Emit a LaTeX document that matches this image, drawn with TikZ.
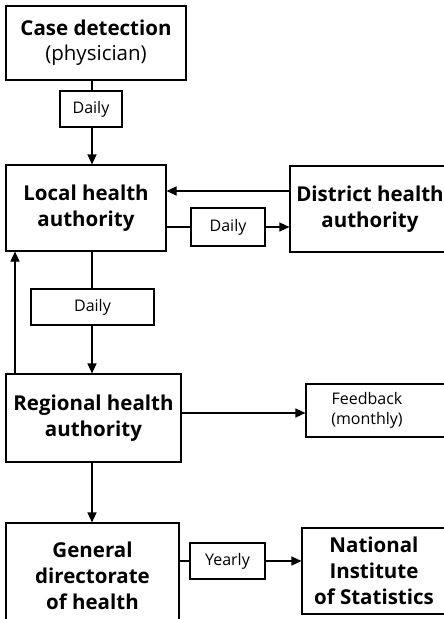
\documentclass[tikz,border=0pt]{standalone}
\usepackage{fontspec}
\setmainfont{Open Sans}
\usetikzlibrary{arrows.meta,calc}
\begin{document}
\begin{tikzpicture}[x=1pt,y=-1pt,
  box/.style={draw,line width=1.1pt,inner sep=0pt,align=center},
  head/.style={box,font=\fontsize{20.5}{26}\selectfont\bfseries},
  tag/.style={box,font=\fontsize{16}{20}\selectfont},
  conn/.style={line width=1.1pt},
  arr/.style={conn,-{Triangle[length=10pt,width=9pt]}}]
\useasboundingbox (0,0) rectangle (444,619);
\clip (0,0) rectangle (444,619);
\node[box,font=\fontsize{20.5}{25}\selectfont,minimum width=180pt,minimum height=74pt] (case) at (96,43)
  {\textbf{Case detection}\\(physician)};
\node[tag,minimum width=62pt,minimum height=36pt] (d1) at (91,109) {Daily};
\node[head,minimum width=160pt,minimum height=86pt] (local) at (86,208) {Local health\\authority};
\node[head,minimum width=160pt,minimum height=86pt] (district) at (370,209) {District health\\authority};
\node[tag,minimum width=74pt,minimum height=38pt] (d2) at (228,227) {Daily};
\node[tag,minimum width=123pt,minimum height=36pt] (d3) at (92.5,307) {Daily};
\node[head,minimum width=175pt,minimum height=88pt] (regional) at (93.5,418) {Regional health\\authority};
\node[box,minimum width=144pt,minimum height=53pt] (fb) at (378,410.5) {};
\node[font=\fontsize{16}{20}\selectfont,align=center] (fbtext) at (367,410) {Feedback\\(monthly)};
\node[head,minimum width=173pt,minimum height=106pt] (general) at (92.5,576) {General\\directorate\\of health};
\node[tag,minimum width=75pt,minimum height=36pt] (yearly) at (227.5,561) {Yearly};
\node[head,minimum width=144pt,minimum height=86pt] (national) at (374,571) {National\\Institute\\of Statistics};
\coordinate (c1) at (92,0);
\draw[conn] (case.south -| c1) -- (d1.north -| c1);
\draw[arr] (d1.south -| c1) -- (local.north -| c1);
\coordinate (c2) at (0,191);
\draw[arr] (district.west |- c2) -- (local.east |- c2);
\draw[conn] (local.east |- d2.west) -- (d2.west);
\draw[arr] (d2.east) -- (d2.east -| district.west);
\draw[conn] (local.south -| c1) -- (d3.north -| c1);
\draw[arr] (d3.south -| c1) -- (regional.north -| c1);
\coordinate (c3) at (15,0);
\draw[arr] (regional.north -| c3) -- (local.south -| c3);
\coordinate (c4) at (0,413);
\draw[arr] (regional.east |- c4) -- (fb.west |- c4);
\draw[arr] (regional.south -| c1) -- (general.north -| c1);
\draw[conn] (general.east |- yearly.west) -- (yearly.west);
\draw[arr] (yearly.east) -- (yearly.east -| national.west);
\end{tikzpicture}
\end{document}
